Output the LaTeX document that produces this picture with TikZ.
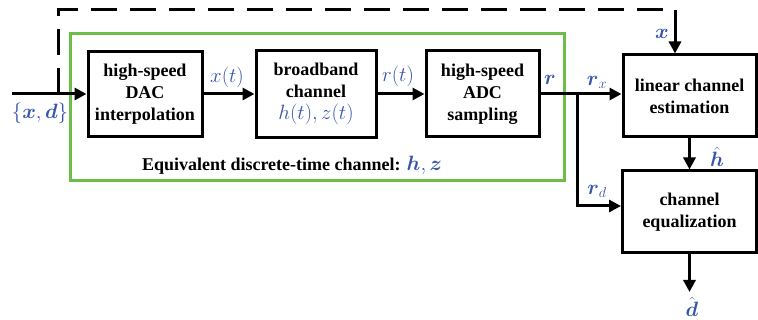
\documentclass[tikz,border=0pt]{standalone}
\usepackage{amsmath}
\usepackage{fontspec}
\setmainfont{Liberation Serif}
\usetikzlibrary{arrows.meta,calc}
\definecolor{lblue}{RGB}{55,85,170}
\definecolor{lgreen}{RGB}{108,190,72}
\tikzset{
  blockbox/.style={draw, line width=3pt, rectangle, align=center,
    font=\fontsize{18}{22}\selectfont\bfseries, inner sep=0pt},
  lbl/.style={text=lblue, font=\fontsize{20}{24}\selectfont, inner sep=0pt},
  flow/.style={line width=3pt, -{Triangle[length=12pt,width=12pt]}},
  feedback/.style={line width=3pt, dash pattern=on 26pt off 13pt},
}
\newcommand{\mth}[1]{\textcolor{lblue}{\fontsize{20}{24}\selectfont$#1$}}
\begin{document}
\begin{tikzpicture}[x=1pt,y=-1pt]
\useasboundingbox (0,0) rectangle (758,320);

% equivalent discrete-time channel frame
\draw[lgreen, line width=3pt] (70,34) rectangle (564,181);
\node[font=\fontsize{18}{22}\selectfont\bfseries, inner sep=0pt] (eqch) at (292,165)
  {Equivalent discrete-time channel: \mth{\boldsymbol{h},\boldsymbol{z}}};

% processing blocks
\node[blockbox, minimum width=114pt, minimum height=85pt] (dac) at (145,94)
  {high-speed\\DAC\\interpolation};
\node[blockbox, minimum width=120pt, minimum height=87pt] (bb) at (316,94)
  {broadband\\channel\\\mth{h(t),z(t)}};
\node[blockbox, minimum width=113pt, minimum height=86pt] (adc) at (482.5,94)
  {high-speed\\ADC\\sampling};
\node[blockbox, minimum width=133pt, minimum height=82pt] (est) at (689.5,96)
  {linear channel\\estimation};
\node[blockbox, minimum width=134pt, minimum height=82pt] (eq) at (689.5,212)
  {channel\\equalization};

% signal path
\coordinate (in) at (12,94);
\coordinate (tap) at (58,94);
\coordinate (split) at (577,94);
\coordinate (out) at (689.5,292);
\draw[flow] (in) -- (dac.west);
\draw[flow] (dac.east) -- (bb.west);
\draw[flow] (bb.east) -- (adc.west);
\draw[flow] (adc.east) -- (adc.east -| est.west);
\draw[flow] (split) |- ([yshift=6pt]eq.west);
\draw[flow] (est.south) -- (eq.north);
\draw[flow] (eq.south) -- (out);

% training symbols fed forward to the estimator
\coordinate (fbtop) at (58,10);
\coordinate (fbend) at (663,10);
\coordinate (fbdrop) at (675,10);
\draw[feedback] (tap) -- (fbtop) -- (fbend);
\draw[flow] (fbdrop) -- (fbdrop |- est.north);

% signal labels
\node[lbl] (lxd) at (40,113) {$\{\boldsymbol{x},\boldsymbol{d}\}$};
\node[lbl] (lxt) at (227,77) {$x(t)$};
\node[lbl] (lrt) at (398,76) {$r(t)$};
\node[lbl] (lr) at (550,80) {$\boldsymbol{r}$};
\node[lbl] (lrx) at (597,82) {$\boldsymbol{r}_{x}$};
\node[lbl] (lrd) at (597,191) {$\boldsymbol{r}_{d}$};
\node[lbl] (lx) at (662,34) {$\boldsymbol{x}$};
\node[lbl] (lh) at (717,157) {$\hat{\boldsymbol{h}}$};
\node[lbl] (ld) at (692,307) {$\hat{\boldsymbol{d}}$};
\end{tikzpicture}
\end{document}
